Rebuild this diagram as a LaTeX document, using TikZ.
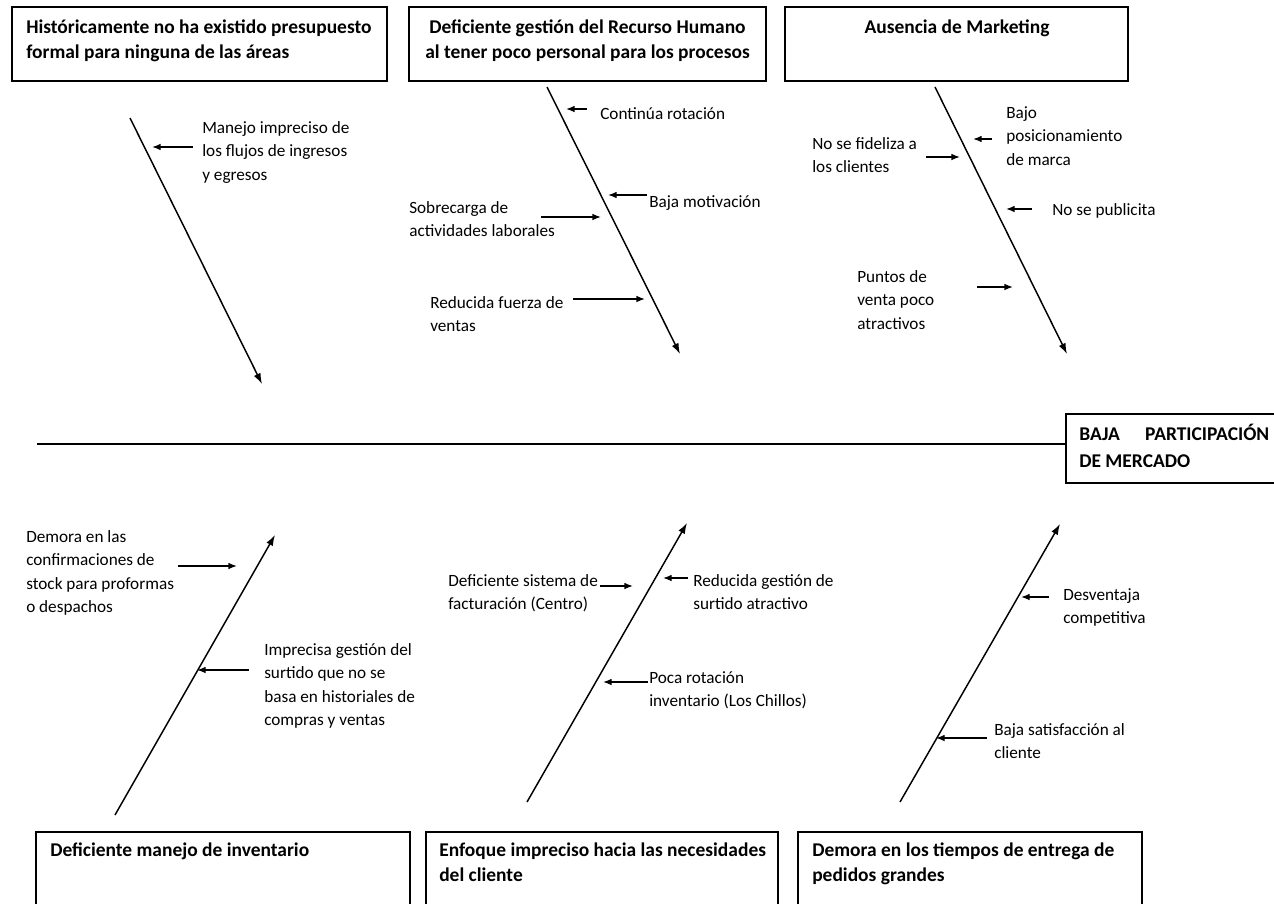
\documentclass[tikz,border=0pt]{standalone}
\usepackage{fontspec}
\setmainfont{Carlito}
\usetikzlibrary{arrows.meta,fit}
\newcommand{\rs}{\rule{0pt}{10pt}}
\newcommand{\bst}{\rule{0pt}{13.5pt}}
\begin{document}
\begin{tikzpicture}[x=0.75pt,y=-0.75pt,
  box/.style={draw, line width=1.3pt, inner sep=0pt},
  lbl/.style={font=\fontsize{12.9}{17.6}\selectfont, align=left, inner sep=0pt, anchor=north west, yshift=10pt},
  ttl/.style={font=\bfseries\fontsize{14.6}{19}\selectfont, align=left, inner sep=0pt, anchor=north west, yshift=13.5pt},
  ttlc/.style={ttl, align=center, anchor=north},
  bone/.style={line width=1.1pt, -{Latex[length=8pt,width=5.5pt]}},
  sub/.style={line width=1pt, -{Latex[length=6.5pt,width=5pt]}},
  spine/.style={line width=1.3pt}]
\useasboundingbox (0,0) rectangle (1274,903);

% ---------- boxes ----------
\coordinate (b1nw) at (12,7);    \coordinate (b1se) at (387,81);
\coordinate (b2nw) at (409,7);   \coordinate (b2se) at (766,81);
\coordinate (b3nw) at (785,7);   \coordinate (b3se) at (1128,81);
\coordinate (efnw) at (1066,414);\coordinate (efse) at (1340,483);
\coordinate (b4nw) at (36,832);  \coordinate (b4se) at (410,940);
\coordinate (b5nw) at (426,832); \coordinate (b5se) at (778,940);
\coordinate (b6nw) at (798,832); \coordinate (b6se) at (1142,940);
\node[box, fit=(b1nw)(b1se)] (b1) {};
\node[box, fit=(b2nw)(b2se)] (b2) {};
\node[box, fit=(b3nw)(b3se)] (b3) {};
\node[box, fit=(efnw)(efse)] (eff) {};
\node[box, fit=(b4nw)(b4se)] (b4) {};
\node[box, fit=(b5nw)(b5se)] (b5) {};
\node[box, fit=(b6nw)(b6se)] (b6) {};

% ---------- box titles ----------
\node[ttl] (t1) at (26,33) {\bst Históricamente no ha existido presupuesto\\formal para ninguna de las áreas};
\node[ttlc] (t2) at (587.5,33) {\bst Deficiente gestión del Recurso Humano\\al tener poco personal para los procesos};
\node[ttlc] (t3) at (957,33) {\bst Ausencia de Marketing};
\node[ttl, font=\bfseries\fontsize{14.6}{20.25}\selectfont] (teff) at (1079,440) {\bst BAJA\hspace{19pt}PARTICIPACIÓN\\DE MERCADO};
\node[ttl] (t4) at (50,856) {\bst Deficiente manejo de inventario};
\node[ttl] (t5) at (439,856) {\bst Enfoque impreciso hacia las necesidades\\del cliente};
\node[ttl] (t6) at (812,856) {\bst Demora en los tiempos de entrega de\\pedidos grandes};

% ---------- spine ----------
\coordinate (spL) at (37,444);
\draw[spine] (spL) -- (spL -| eff.west);

% ---------- bones ----------
\coordinate (k1s) at (130,118); \coordinate (k1e) at (262,384);
\coordinate (k2s) at (547,87);  \coordinate (k2e) at (680,354);
\coordinate (k3s) at (935,87);  \coordinate (k3e) at (1067,354);
\coordinate (k4s) at (115,815); \coordinate (k4e) at (275,535);
\coordinate (k5s) at (527,802); \coordinate (k5e) at (687,523);
\coordinate (k6s) at (900,802); \coordinate (k6e) at (1060,524);
\foreach \i in {1,...,6}{\draw[bone] (k\i s) -- (k\i e);}

% ---------- labels ----------
\node[lbl] (l1) at (202,133) {\rs Manejo impreciso de\\los flujos de ingresos\\y egresos};
\node[lbl] (l2) at (600,119) {\rs Continúa rotación};
\node[lbl] (l3) at (649,207) {\rs Baja motivación};
\node[lbl] (l4) at (409,213) {\rs Sobrecarga de\\actividades laborales};
\node[lbl] (l5) at (430,308) {\rs Reducida fuerza de\\ventas};
\node[lbl] (l6) at (1006,118) {\rs Bajo\\posicionamiento\\de marca};
\node[lbl] (l7) at (812,149) {\rs No se fideliza a\\los clientes};
\node[lbl] (l8) at (1052,215) {\rs No se publicita};
\node[lbl] (l9) at (857,282) {\rs Puntos de\\venta poco\\atractivos};
\node[lbl] (l10) at (26,542) {\rs Demora en las\\confirmaciones de\\stock para proformas\\o despachos};
\node[lbl] (l11) at (264,655) {\rs Imprecisa gestión del\\surtido que no se\\basa en historiales de\\compras y ventas};
\node[lbl] (l12) at (448,586) {\rs Deficiente sistema de\\facturación (Centro)};
\node[lbl] (l13) at (693,586) {\rs Reducida gestión de\\surtido atractivo};
\node[lbl] (l14) at (649,683) {\rs Poca rotación\\inventario (Los Chillos)};
\node[lbl] (l15) at (1063,600) {\rs Desventaja\\competitiva};
\node[lbl] (l16) at (994,735) {\rs Baja satisfacción al\\cliente};

% ---------- sub arrows ----------
\coordinate (a1s) at (193,147);  \coordinate (a1e) at (152,147);
\coordinate (a2s) at (587,109);  \coordinate (a2e) at (566,109);
\coordinate (a3s) at (647,195);  \coordinate (a3e) at (608,195);
\coordinate (a4s) at (541,217);  \coordinate (a4e) at (601,217);
\coordinate (a5s) at (573,299);  \coordinate (a5e) at (645,299);
\coordinate (a6s) at (992,139);  \coordinate (a6e) at (973,139);
\coordinate (a7s) at (926,157);  \coordinate (a7e) at (960,157);
\coordinate (a8s) at (1032,209); \coordinate (a8e) at (1006,209);
\coordinate (a9s) at (977,287);  \coordinate (a9e) at (1013,287);
\coordinate (a10s) at (178,566); \coordinate (a10e) at (237,566);
\coordinate (a11s) at (249,670); \coordinate (a11e) at (197,670);
\coordinate (a12s) at (600,586); \coordinate (a12e) at (633,586);
\coordinate (a13s) at (688,578); \coordinate (a13e) at (663,578);
\coordinate (a14s) at (648,682); \coordinate (a14e) at (603,682);
\coordinate (a15s) at (1049,597);\coordinate (a15e) at (1021,597);
\coordinate (a16s) at (987,738); \coordinate (a16e) at (936,738);
\foreach \i in {1,...,16}{\draw[sub] (a\i s) -- (a\i e);}
\end{tikzpicture}
\end{document}
